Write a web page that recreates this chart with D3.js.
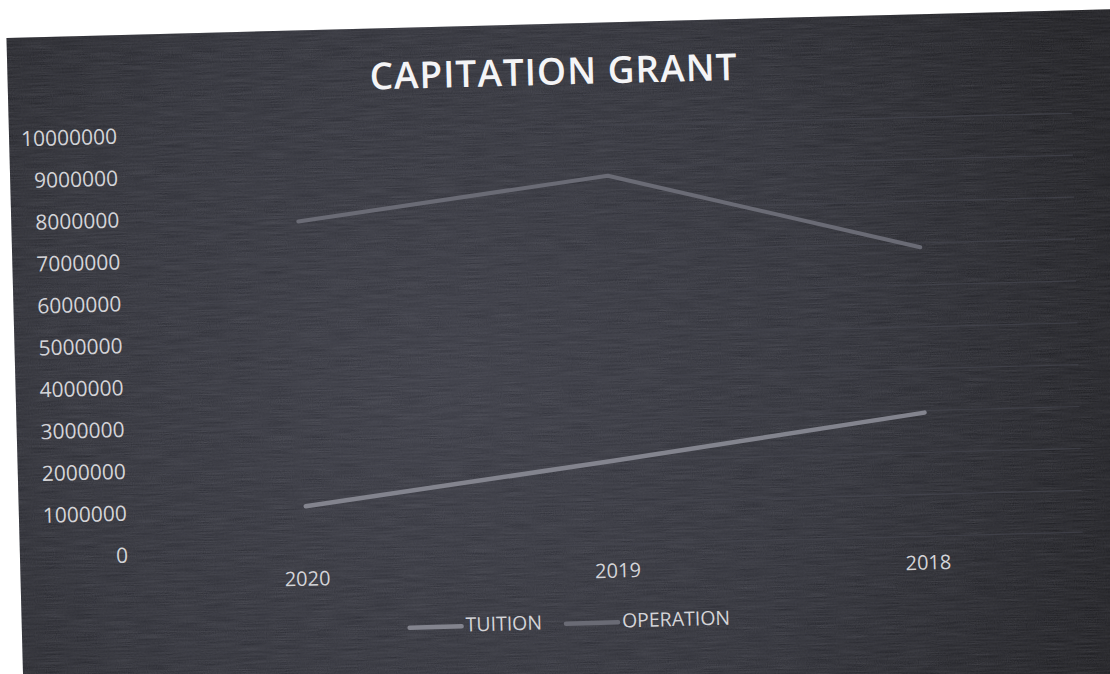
<!DOCTYPE html>
<html>
<head>
<meta charset="utf-8">
<script src="https://cdn.jsdelivr.net/npm/d3@7"></script>
<style>
  body { margin: 0; background: #fff; }
  svg { display: block; }
</style>
</head>
<body>
<svg id="chart" width="1110" height="674"></svg>
<script>
// data
const years = ["2020", "2019", "2018"];
const tuition = [1100000, 2000000, 2950000];
const operation = [7900000, 8800000, 6900000];
const yTicks = [0, 1000000, 2000000, 3000000, 4000000, 5000000, 6000000, 7000000, 8000000, 9000000, 10000000];
const seriesNames = ["TUITION", "OPERATION"];

const svg = d3.select("#chart"),
      W = +svg.attr("width"),
      H = +svg.attr("height");

const defs = svg.append("defs");
const grad = defs.append("radialGradient")
  .attr("id", "bg").attr("gradientUnits", "userSpaceOnUse")
  .attr("cx", 450).attr("cy", 400).attr("r", 720);
grad.append("stop").attr("offset", "0%").attr("stop-color", "#2c2d36");
grad.append("stop").attr("offset", "55%").attr("stop-color", "#212229");
grad.append("stop").attr("offset", "100%").attr("stop-color", "#0e0e11");

// grainy scan texture, fine specks plus horizontal streaks
const f = defs.append("filter").attr("id", "grain").attr("x", 0).attr("y", 0).attr("width", 1).attr("height", 1);
f.append("feTurbulence").attr("type", "fractalNoise").attr("baseFrequency", "0.03 0.9").attr("numOctaves", 2).attr("seed", 3).attr("result", "n");
f.append("feColorMatrix").attr("in", "n").attr("type", "matrix")
  .attr("values", "0 0 0 0 0.7  0 0 0 0 0.7  0 0 0 0 0.78  0 0 0 0.16 0").attr("result", "c");
f.append("feComposite").attr("in", "c").attr("in2", "SourceGraphic").attr("operator", "in");

const f2 = defs.append("filter").attr("id", "speck").attr("x", 0).attr("y", 0).attr("width", 1).attr("height", 1);
f2.append("feTurbulence").attr("type", "fractalNoise").attr("baseFrequency", "0.9 0.9").attr("numOctaves", 1).attr("seed", 7).attr("result", "n");
f2.append("feColorMatrix").attr("in", "n").attr("type", "matrix")
  .attr("values", "0 0 0 0 0.65  0 0 0 0 0.65  0 0 0 0 0.72  0 0 0 0.14 0").attr("result", "c");
f2.append("feComposite").attr("in", "c").attr("in2", "SourceGraphic").attr("operator", "in");

svg.append("rect").attr("width", W).attr("height", H).attr("fill", "#ffffff");

// the photo is slightly tilted
const g = svg.append("g").attr("transform", "rotate(-1.49,128,557)");

g.append("rect").attr("x", 20).attr("y", 35).attr("width", 1110).attr("height", 720).attr("fill", "url(#bg)");
g.append("rect").attr("x", 20).attr("y", 35).attr("width", 1110).attr("height", 720).attr("fill", "#000").attr("filter", "url(#grain)");
g.append("rect").attr("x", 20).attr("y", 35).attr("width", 1110).attr("height", 720).attr("fill", "#000").attr("filter", "url(#speck)");

const x = d3.scalePoint().domain(years).range([307, 928]);
const y = d3.scaleLinear().domain([0, 10000000]).range([557, 138]);

// gridlines
g.append("g")
  .selectAll("line")
  .data(yTicks)
  .enter().append("line")
    .attr("x1", 152).attr("x2", 1083)
    .attr("y1", d => y(d)).attr("y2", d => y(d))
    .attr("stroke", "#45464f").attr("stroke-width", 1.2).attr("opacity", 0.7);

// y axis labels
g.append("g")
  .selectAll("text")
  .data(yTicks)
  .enter().append("text")
    .attr("x", 128).attr("y", d => y(d))
    .attr("text-anchor", "end").attr("dominant-baseline", "middle")
    .style("font-family", "'Open Sans', sans-serif").style("font-size", "21px")
    .attr("fill", "#d4d4d8")
    .text(d => d3.format("d")(d));

// x axis labels
g.append("g")
  .selectAll("text")
  .data(years)
  .enter().append("text")
    .attr("x", d => x(d)).attr("y", 585)
    .attr("text-anchor", "middle").attr("dominant-baseline", "middle")
    .style("font-family", "'Open Sans', sans-serif").style("font-size", "20px")
    .attr("fill", "#d4d4d8")
    .text(d => d);

// lines
const colors = ["#83848e", "#6a6b75"];
const line = d3.line().x(d => x(d.year)).y(d => y(d.value));
[tuition, operation].forEach((vals, i) => {
  g.append("path")
    .datum(years.map((yr, j) => ({ year: yr, value: vals[j] })))
    .attr("d", line)
    .attr("fill", "none")
    .attr("stroke", colors[i])
    .attr("stroke-width", i === 0 ? 4.5 : 4)
    .attr("stroke-linecap", "round")
    .attr("stroke-linejoin", "round");
});

// title
g.append("text")
  .attr("x", 566).attr("y", 86)
  .attr("text-anchor", "middle").attr("dominant-baseline", "middle")
  .style("font-family", "'Open Sans', sans-serif").style("font-size", "37px")
  .style("font-weight", "600").style("letter-spacing", "1px")
  .attr("fill", "#f4f4f6")
  .text("CAPITATION GRANT");

// legend
const leg = g.append("g");
const items = seriesNames.map((name, i) => {
  const it = leg.append("g");
  it.append("line").attr("x1", 0).attr("x2", 52).attr("y1", 0).attr("y2", 0)
    .attr("stroke", colors[i]).attr("stroke-width", 4.5).attr("stroke-linecap", "round");
  const t = it.append("text").attr("x", 56).attr("y", 0).attr("dominant-baseline", "middle")
    .style("font-family", "'Open Sans', sans-serif").style("font-size", "19.5px")
    .attr("fill", "#d4d4d8").text(name);
  return { it, w: 56 + t.node().getComputedTextLength() };
});
const gap = 24;
const total = d3.sum(items, d => d.w) + gap * (items.length - 1);
let lx = 568 - total / 2;
items.forEach(d => {
  d.it.attr("transform", `translate(${lx},635)`);
  lx += d.w + gap;
});
</script>
</body>
</html>
